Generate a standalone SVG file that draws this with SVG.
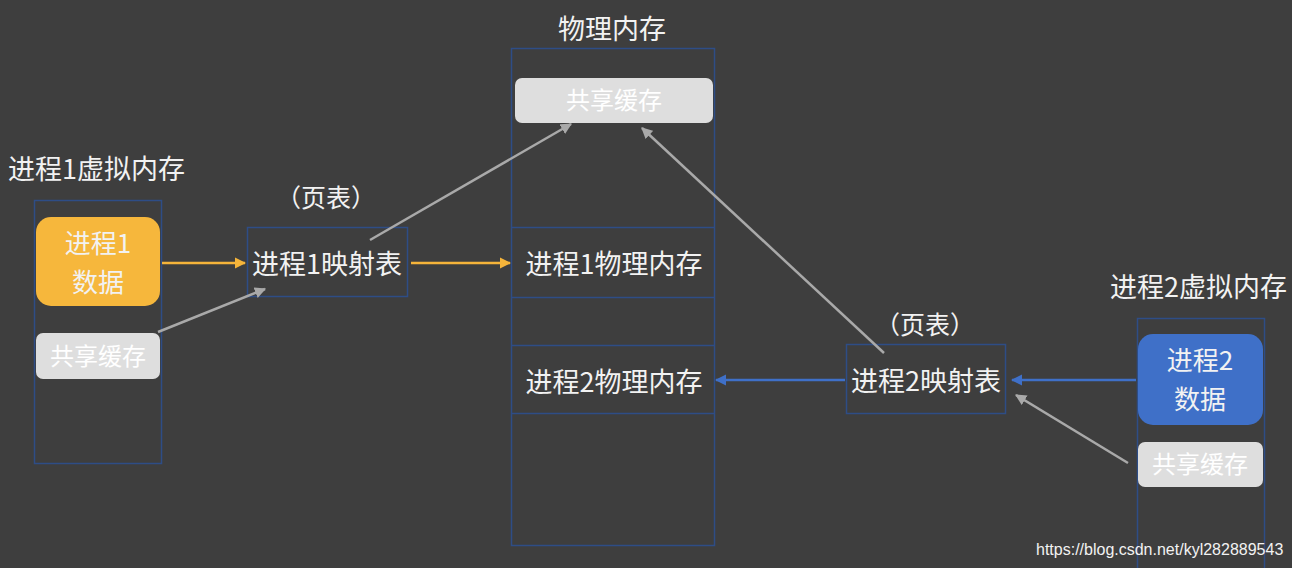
<svg xmlns="http://www.w3.org/2000/svg" width="1292" height="568" viewBox="0 0 1292 568">
<style>
text{font-family:"Noto Sans CJK SC","Liberation Sans",sans-serif;fill:#f2f2f2}
.col{fill:none;stroke:#2e4d86;stroke-width:1.5}
.sep{stroke:#2e4d86;stroke-width:1.5}
.shared{fill:#dedede}
.st{font-size:24px;fill:#ffffff}
.lbl{font-size:27px}
.c{text-anchor:middle}
.ao{stroke:#f5b43a;stroke-width:2.5;fill:none}
.ag{stroke:#a9a9a9;stroke-width:2.5;fill:none}
.ab{stroke:#3f70c8;stroke-width:2.5;fill:none}
</style>
<defs>
<marker id="mo" viewBox="0 0 10 10" refX="9" refY="5" markerWidth="4.5" markerHeight="4.5" orient="auto" markerUnits="strokeWidth"><path d="M0,0L10,5L0,10z" fill="#f5b43a"/></marker>
<marker id="mg" viewBox="0 0 10 10" refX="9" refY="5" markerWidth="4.5" markerHeight="4.5" orient="auto" markerUnits="strokeWidth"><path d="M0,0L10,5L0,10z" fill="#a9a9a9"/></marker>
<marker id="mb" viewBox="0 0 10 10" refX="9" refY="5" markerWidth="4.5" markerHeight="4.5" orient="auto" markerUnits="strokeWidth"><path d="M0,0L10,5L0,10z" fill="#3f70c8"/></marker>
</defs>
<rect width="1292" height="568" fill="#3e3e3e"/>

<g id="vm1">
<text x="8" y="179" font-size="27">进程1虚拟内存</text>
<rect class="col" x="34.5" y="200.5" width="127" height="263"/>
<rect x="36" y="217" width="124" height="89" rx="15" fill="#f6b73c"/>
<text class="c" x="98" y="253" font-size="26" fill="#fff">进程1</text>
<text class="c" x="98" y="292" font-size="26" fill="#fff">数据</text>
<rect class="shared" x="36" y="333" width="124" height="46" rx="7"/>
<text class="st c" x="98" y="365">共享缓存</text>
</g>

<g id="pt1">
<text class="c" x="326" y="207" font-size="25">（页表）</text>
<rect class="col" x="247.5" y="227.5" width="160" height="69"/>
<text class="lbl c" x="327" y="274">进程1映射表</text>
</g>

<g id="phys">
<text class="lbl c" x="612" y="39">物理内存</text>
<rect class="col" x="511.5" y="48.5" width="203" height="497"/>
<rect class="shared" x="515" y="78" width="198" height="45" rx="7"/>
<text class="st c" x="614" y="109">共享缓存</text>
<line class="sep" x1="511" y1="227.5" x2="714" y2="227.5"/>
<line class="sep" x1="511" y1="297.5" x2="714" y2="297.5"/>
<line class="sep" x1="511" y1="345.5" x2="714" y2="345.5"/>
<line class="sep" x1="511" y1="413.5" x2="714" y2="413.5"/>
<text class="lbl c" x="614" y="274">进程1物理内存</text>
<text class="lbl c" x="614" y="392">进程2物理内存</text>
</g>

<g id="pt2">
<text class="c" x="925" y="334" font-size="25">（页表）</text>
<rect class="col" x="846.5" y="344.5" width="159" height="69"/>
<text class="lbl c" x="926" y="391">进程2映射表</text>
</g>

<g id="vm2">
<text x="1110" y="297" font-size="27">进程2虚拟内存</text>
<rect class="col" x="1137.5" y="318.5" width="127" height="260"/>
<rect x="1138" y="334" width="125" height="91" rx="15" fill="#3f70c8"/>
<text class="c" x="1200" y="370" font-size="26" fill="#fff">进程2</text>
<text class="c" x="1200" y="409" font-size="26" fill="#fff">数据</text>
<rect class="shared" x="1138" y="442" width="125" height="45" rx="7"/>
<text class="st c" x="1200" y="473">共享缓存</text>
</g>

<g id="connectors">
<line class="ao" x1="162" y1="263" x2="245" y2="263" marker-end="url(#mo)"/>
<line class="ao" x1="411" y1="263" x2="510" y2="263" marker-end="url(#mo)"/>
<line class="ag" x1="158" y1="332" x2="265" y2="289" marker-end="url(#mg)"/>
<line class="ag" x1="370" y1="240" x2="571" y2="124" marker-end="url(#mg)"/>
<line class="ag" x1="884" y1="353" x2="642" y2="128" marker-end="url(#mg)"/>
<line class="ab" x1="1136" y1="380" x2="1012" y2="380" marker-end="url(#mb)"/>
<line class="ab" x1="845" y1="380" x2="716" y2="380" marker-end="url(#mb)"/>
<line class="ag" x1="1128" y1="463" x2="1016" y2="395" marker-end="url(#mg)"/>
</g>

<text x="1036" y="555" font-size="16" fill="#e6e6e6" style="font-family:'Liberation Sans',sans-serif">https://blog.csdn.net/kyl282889543</text>
</svg>
